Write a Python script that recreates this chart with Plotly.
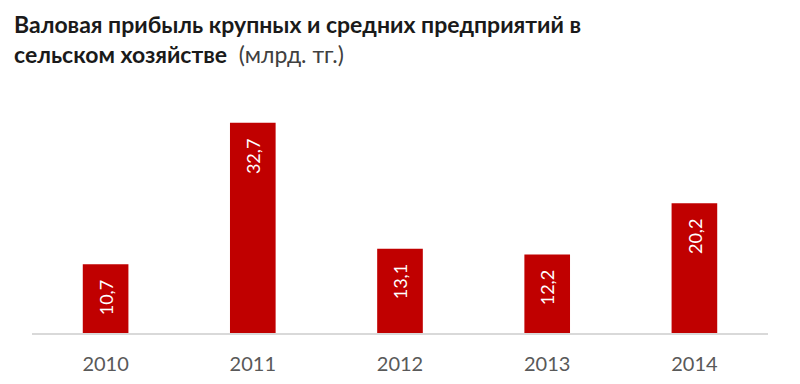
import plotly.graph_objects as go

years = ["2010", "2011", "2012", "2013", "2014"]
values = [10.7, 32.7, 13.1, 12.2, 20.2]
labels = ["10,7", "32,7", "13,1", "12,2", "20,2"]

title_line1 = "Валовая прибыль крупных и средних предприятий в"
title_line2_bold = "сельском хозяйстве"
title_line2_unit = "(млрд. тг.)"

BAR_COLOR = "#C00000"
FONT = "Lato"

fig = go.Figure()
fig.add_trace(go.Bar(
    x=years, y=values, marker_color=BAR_COLOR, marker_line_width=0,
    hoverinfo="skip",
))

for i, (v, lab) in enumerate(zip(values, labels)):
    fig.add_annotation(
        x=i, y=v, xref="x", yref="y", text=lab, showarrow=False,
        textangle=-90, yanchor="top", xanchor="center", yshift=-14,
        font=dict(family=FONT, size=18, color="white"),
    )

fig.add_annotation(
    xref="paper", yref="paper", x=-0.027, y=1.0, yshift=100,
    xanchor="left", yanchor="top", showarrow=False,
    text="<b>" + title_line1 + "</b>",
    font=dict(family=FONT, size=23, color="#1a1a1a"),
)
fig.add_annotation(
    xref="paper", yref="paper", x=-0.027, y=1.0, yshift=70,
    xanchor="left", yanchor="top", showarrow=False,
    text="<b>" + title_line2_bold + "</b>  <span style='color:#404040'>" + title_line2_unit + "</span>",
    font=dict(family=FONT, size=23, color="#1a1a1a"),
)

fig.update_layout(
    width=800, height=384,
    margin=dict(l=24, r=40, t=100, b=59),
    paper_bgcolor="white", plot_bgcolor="white",
    bargap=0.69, showlegend=False,
    xaxis=dict(
        type="category", range=[-0.5, len(years) - 0.5],
        showline=True, linecolor="#d9d9d9", linewidth=1.5,
        ticks="", showgrid=False, zeroline=False, ticklabelstandoff=12,
        tickfont=dict(family=FONT, size=20, color="#595959"),
    ),
    yaxis=dict(range=[0, 35], visible=False, showgrid=False, zeroline=False),
)

fig.write_html("out.html")
